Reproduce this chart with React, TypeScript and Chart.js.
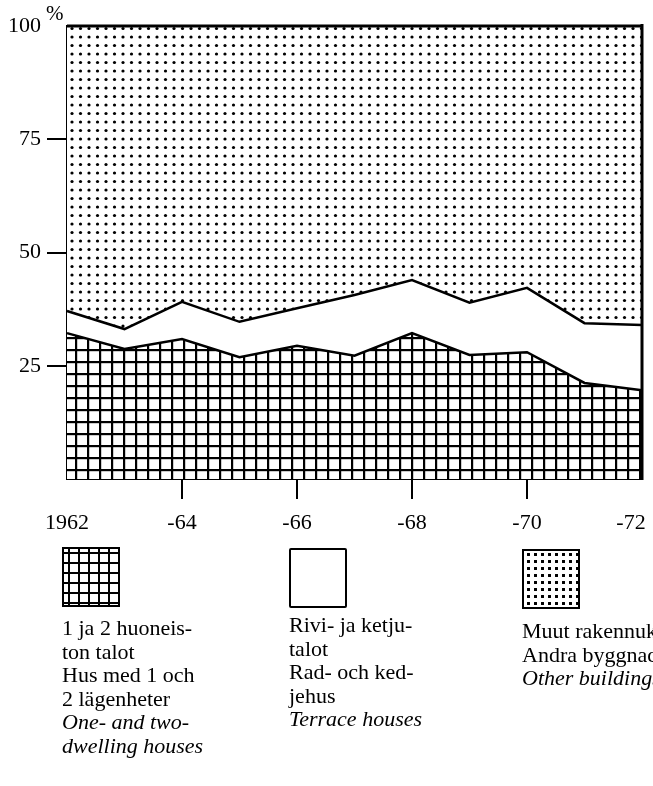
import React, { useEffect, useRef } from "react";
import { Chart, registerables } from "chart.js";

Chart.register(...registerables);

// ---- data ----
const years = ["1962", "1963", "1964", "1965", "1966", "1967", "1968", "1969", "1970", "1971", "1972"];
const xTickText = ["1962", "", "-64", "", "-66", "", "-68", "", "-70", "", "-72    "];
const xTickMarkYears = ["1964", "1966", "1968", "1970"];
const yTickValues = [25, 50, 75, 100];
const yTickMarkValues = [25, 50, 75];

// share of dwellings completed, % (stacked to 100)
const oneTwoDwellingHouses = [32.2, 28.7, 30.9, 26.9, 29.4, 27.2, 32.2, 27.4, 28.0, 21.2, 19.6];
const terraceHouses = [4.9, 4.4, 8.2, 7.8, 8.3, 13.4, 11.7, 11.5, 14.2, 13.2, 14.4];
const otherBuildings = [62.9, 66.9, 60.9, 65.3, 62.3, 59.4, 56.1, 61.1, 57.8, 65.6, 66.0];

const legendCol1 = ["1 ja 2 huoneis-", "ton talot", "Hus med 1 och", "2 lägenheter"];
const legendCol1En = ["One- and two-", "dwelling houses"];
const legendCol2 = ["Rivi- ja ketju-", "talot", "Rad- och ked-", "jehus"];
const legendCol2En = ["Terrace houses"];
const legendCol3 = ["Muut rakennukset", "Andra byggnader"];
const legendCol3En = ["Other buildings"];

const SERIF = "'Liberation Serif', 'Times New Roman', 'DejaVu Serif', serif";

function makeGridPattern(ctx: CanvasRenderingContext2D) {
  const c = document.createElement("canvas");
  c.width = 12;
  c.height = 12;
  const g = c.getContext("2d")!;
  g.fillStyle = "#fff";
  g.fillRect(0, 0, 12, 12);
  g.fillStyle = "#000";
  g.fillRect(3, 0, 2.2, 12);
  g.fillRect(0, 1, 12, 2.2);
  return ctx.createPattern(c, "repeat")!;
}

function makeDotPattern(ctx: CanvasRenderingContext2D) {
  const c = document.createElement("canvas");
  c.width = 17;
  c.height = 17;
  const g = c.getContext("2d")!;
  g.fillStyle = "#fff";
  g.fillRect(0, 0, 17, 17);
  g.fillStyle = "#000";
  const pts = [
    [4, 3],
    [12.5, 3],
    [4, 11.5],
    [12.5, 11.5],
  ];
  for (const [x, y] of pts) {
    g.beginPath();
    g.arc(x, y, 1.6, 0, Math.PI * 2);
    g.fill();
  }
  return ctx.createPattern(c, "repeat")!;
}

const framePlugin = {
  id: "frameRight",
  afterDatasetsDraw(chart: any) {
    const { ctx, chartArea: a } = chart;
    ctx.save();
    ctx.strokeStyle = "#000";
    ctx.lineWidth = 3;
    ctx.beginPath();
    ctx.moveTo(a.right, a.top - 2);
    ctx.lineTo(a.right, a.bottom + 1);
    ctx.stroke();
    ctx.restore();
  },
};

const CANVAS_W = 653;
const CANVAS_H = 560;
const PLOT_LEFT = 67;
const PLOT_RIGHT = 642;
const PLOT_TOP = 26;
const PLOT_BOTTOM = 479;

export default function App() {
  const ref = useRef<HTMLCanvasElement>(null);

  useEffect(() => {
    const canvas = ref.current!;
    const ctx = canvas.getContext("2d")!;
    const gridPat = makeGridPattern(ctx);
    const dotPat = makeDotPattern(ctx);

    const chart = new Chart(ctx, {
      type: "line",
      data: {
        labels: years,
        datasets: [
          {
            label: "One- and two-dwelling houses",
            data: oneTwoDwellingHouses,
            backgroundColor: gridPat as any,
            borderColor: "#000",
            borderWidth: 2.5,
            fill: "origin",
            pointRadius: 0,
            tension: 0,
          },
          {
            label: "Terrace houses",
            data: terraceHouses,
            backgroundColor: "#fff",
            borderColor: "#000",
            borderWidth: 2.5,
            fill: "-1",
            pointRadius: 0,
            tension: 0,
          },
          {
            label: "Other buildings",
            data: otherBuildings,
            backgroundColor: dotPat as any,
            borderColor: "#000",
            borderWidth: 3,
            fill: "-1",
            pointRadius: 0,
            tension: 0,
            clip: 4,
          },
        ],
      },
      options: {
        responsive: false,
        animation: false,
        events: [],
        layout: {
          padding: { left: 0, right: CANVAS_W - PLOT_RIGHT, top: PLOT_TOP, bottom: 0 },
        },
        plugins: {
          legend: { display: false },
          tooltip: { enabled: false },
        },
        scales: {
          x: {
            type: "category",
            offset: false,
            z: 1,
            border: { display: true, color: "#000", width: 2 },
            grid: {
              drawOnChartArea: false,
              drawTicks: true,
              tickLength: 20,
              lineWidth: 2,
              color: (c: any) =>
                c.tick && xTickMarkYears.includes(years[c.index]) ? "#000" : "rgba(0,0,0,0)",
            },
            ticks: {
              autoSkip: false,
              maxRotation: 0,
              minRotation: 0,
              padding: 11,
              color: "#000",
              font: { family: SERIF, size: 22 },
              callback: (_v: any, i: number) => xTickText[i],
            },
            afterFit: (s: any) => {
              s.height = CANVAS_H - PLOT_BOTTOM;
              s.paddingLeft = 0;
              s.paddingRight = 0;
            },
          },
          y: {
            stacked: true,
            min: 0,
            max: 100,
            z: 1,
            border: { display: true, color: "#000", width: 2 },
            grid: {
              drawOnChartArea: false,
              drawTicks: true,
              tickLength: 20,
              lineWidth: 2,
              color: (c: any) =>
                c.tick && yTickMarkValues.includes(c.tick.value) ? "#000" : "rgba(0,0,0,0)",
            },
            afterBuildTicks: (s: any) => {
              s.ticks = yTickValues.map((v) => ({ value: v }));
            },
            ticks: {
              padding: 6,
              color: "#000",
              font: { family: SERIF, size: 22 },
              callback: (v: any) => String(v),
            },
            afterFit: (s: any) => {
              s.width = PLOT_LEFT;
              s.paddingTop = 0;
              s.paddingBottom = 0;
            },
          },
        },
      },
      plugins: [framePlugin],
    });
    return () => chart.destroy();
  }, []);

  const textBlock = (left: number, top: number, lines: string[], italic: string[]) => (
    <div
      style={{
        position: "absolute",
        left,
        top,
        fontFamily: SERIF,
        fontSize: 22,
        lineHeight: "23.5px",
        color: "#000",
        whiteSpace: "nowrap",
      }}
    >
      {lines.map((l, i) => (
        <div key={"l" + i}>{l}</div>
      ))}
      {italic.map((l, i) => (
        <div key={"i" + i} style={{ fontStyle: "italic" }}>
          {l}
        </div>
      ))}
    </div>
  );

  const swatchBase: React.CSSProperties = {
    position: "absolute",
    width: 54,
    height: 56,
    border: "2px solid #000",
    boxSizing: "content-box",
    background: "#fff",
  };

  return (
    <div
      style={{
        position: "absolute",
        left: 0,
        top: 0,
        width: 653,
        height: 786,
        overflow: "hidden",
        background: "#fff",
      }}
    >
      <canvas ref={ref} width={CANVAS_W} height={CANVAS_H} style={{ position: "absolute", left: 0, top: 0 }} />
      <div
        style={{
          position: "absolute",
          left: 46,
          top: 1,
          fontFamily: SERIF,
          fontSize: 21,
          color: "#000",
        }}
      >
        %
      </div>

      <div
        style={{
          ...swatchBase,
          left: 62,
          top: 547,
          backgroundImage:
            "linear-gradient(to right, #000 2.5px, transparent 2.5px), linear-gradient(to bottom, #000 2.5px, transparent 2.5px)",
          backgroundSize: "10px 10px",
          backgroundPosition: "4px 3px",
        }}
      />
      <div style={{ ...swatchBase, left: 289, top: 548, borderRadius: 2 }} />
      <div
        style={{
          ...swatchBase,
          left: 522,
          top: 549,
          backgroundImage: "radial-gradient(circle, #000 1.4px, transparent 1.9px)",
          backgroundSize: "7px 7px",
          backgroundPosition: "1px 0px",
        }}
      />

      {textBlock(62, 616, legendCol1, legendCol1En)}
      {textBlock(289, 613, legendCol2, legendCol2En)}
      {textBlock(522, 619, legendCol3, legendCol3En)}
    </div>
  );
}
